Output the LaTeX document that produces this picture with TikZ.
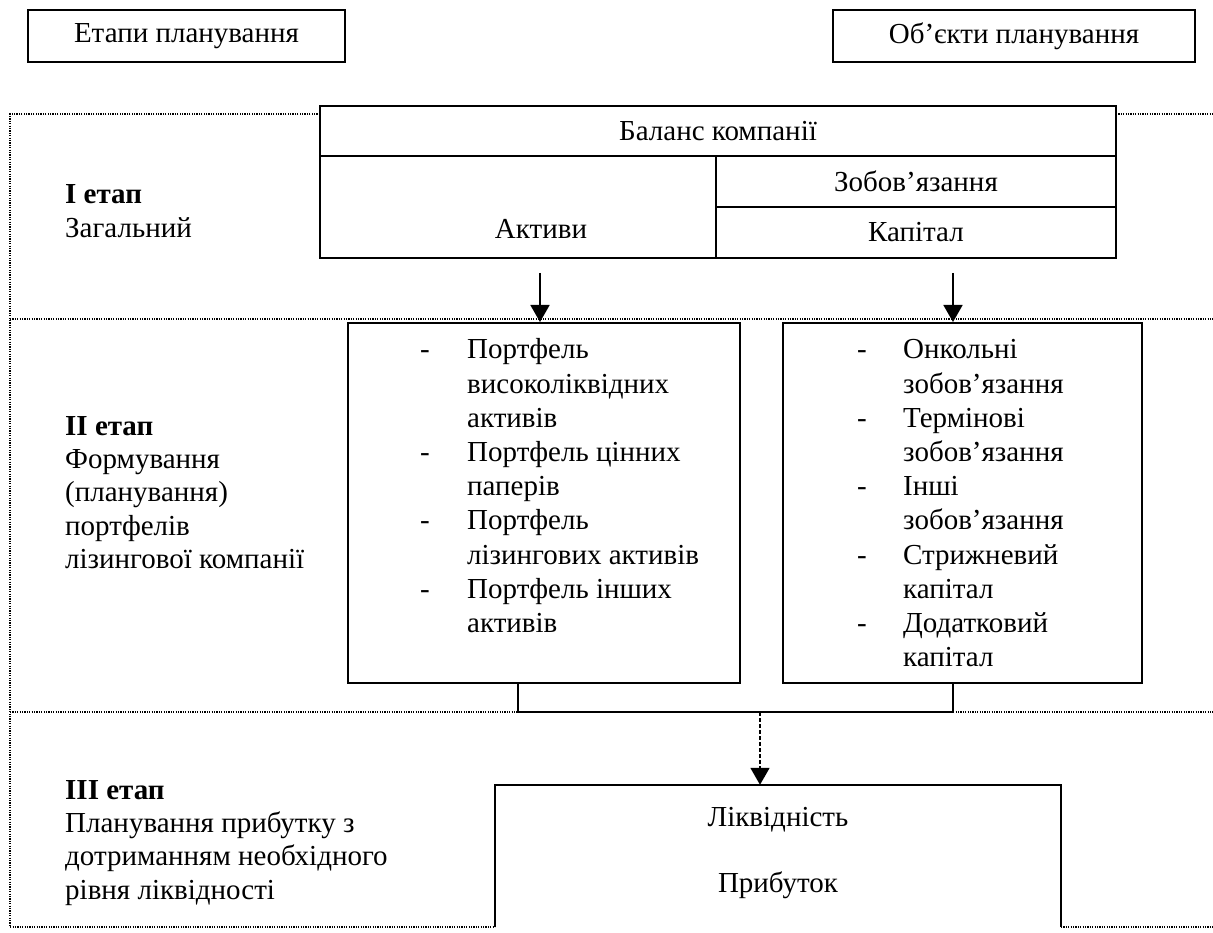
\documentclass[tikz,border=0pt]{standalone}
\usepackage{fontspec}
\setmainfont{Liberation Serif}
\usetikzlibrary{arrows.meta}
\begin{document}
\begin{tikzpicture}[x=1pt,y=-1pt,
  lbl/.style={inner sep=0pt, font=\fontsize{29}{33.4}\selectfont},
  lst/.style={inner sep=0pt, font=\fontsize{29}{34.2}\selectfont},
  boxed/.style={draw, line width=2pt, inner sep=0pt},
  frame/.style={line width=1.3pt, dash pattern=on 1.2pt off 1.2pt},
  link/.style={line width=1.8pt},
  tip/.style={-{Triangle[length=17pt,width=19pt]}}
]
\useasboundingbox (0,0) rectangle (1213,933);

% header boxes
\node[boxed, lbl, minimum width=317pt, minimum height=52pt] (stages) at (186.5,36) {Етапи планування};
\node[boxed, lbl, minimum width=362pt, minimum height=52pt] (objects) at (1014,36) {Об’єкти планування};

% stage frame (dotted)
\draw[frame] (320,114) -- (10,114) -- (10,927) -- (495,927);
\draw[frame] (1116,114) -- (1213,114);
\draw[frame] (10,319) -- (1213,319);
\draw[frame] (10,712) -- (1213,712);
\draw[frame] (1061,927) -- (1213,927);

% balance table
\node[boxed, lbl, minimum width=796pt, minimum height=50pt] (balance) at (718,131) {Баланс компанії};
\node[boxed, minimum width=396pt, minimum height=102pt] (assets) at (518,207) {};
\node[lbl, anchor=base] (assetstxt) at (541,239) {Активи};
\node[boxed, lbl, minimum width=400pt, minimum height=51pt] (liab) at (916,181.5) {Зобов’язання};
\node[boxed, lbl, minimum width=400pt, minimum height=51pt] (capital) at (916,232.5) {Капітал};

% stage labels
\node[lbl, anchor=base west] (st1) at (65,204) {\begin{tabular}[t]{@{}l@{}}\textbf{I етап}\\Загальний\end{tabular}};
\node[lbl, anchor=base west] (st2) at (65,435) {\begin{tabular}[t]{@{}l@{}}\textbf{II етап}\\Формування\\(планування)\\портфелів\\лізингової компанії\end{tabular}};
\node[lbl, anchor=base west] (st3) at (65,799) {\begin{tabular}[t]{@{}l@{}}\textbf{III етап}\\Планування прибутку з\\дотриманням необхідного\\рівня ліквідності\end{tabular}};

% stage II boxes
\node[boxed, minimum width=392pt, minimum height=360pt] (leftbox) at (544,503) {};
\node[boxed, minimum width=359pt, minimum height=360pt] (rightbox) at (962.5,503) {};
\node[lst, anchor=base west] (leftlist) at (420,359) {\begin{tabular}[t]{@{}p{47pt}@{}l@{}}
-&Портфель\\&високоліквідних\\&активів\\
-&Портфель цінних\\&паперів\\
-&Портфель\\&лізингових активів\\
-&Портфель інших\\&активів\end{tabular}};
\node[lst, anchor=base west] (rightlist) at (857,359) {\begin{tabular}[t]{@{}p{46pt}@{}l@{}}
-&Онкольні\\&зобов’язання\\
-&Термінові\\&зобов’язання\\
-&Інші\\&зобов’язання\\
-&Стрижневий\\&капітал\\
-&Додатковий\\&капітал\end{tabular}};

% stage III box (open at the bottom)
\node[minimum width=566pt, minimum height=142pt, inner sep=0pt] (result) at (778,856) {};
\draw[link, line width=2pt] (result.south west) -- (result.north west) -- (result.north east) -- (result.south east);
\node[lbl, anchor=base] (liq) at (778,826) {Ліквідність};
\node[lbl, anchor=base] (profit) at (778,892) {Прибуток};

% connectors
\coordinate (a1) at (540,273);
\coordinate (a2) at (953,273);
\draw[link, tip] (a1) -- (a1 |- leftbox.north);
\draw[link, tip] (a2) -- (a2 |- rightbox.north);
\coordinate (jl) at (518,712);
\coordinate (jr) at (953,712);
\coordinate (j) at (760,712);
\draw[link] (jl |- leftbox.south) -- (jl) -- (jr) -- (jr |- rightbox.south);
\draw[link, dash pattern=on 4pt off 2pt, tip] (j) -- (j |- result.north);
\end{tikzpicture}
\end{document}
